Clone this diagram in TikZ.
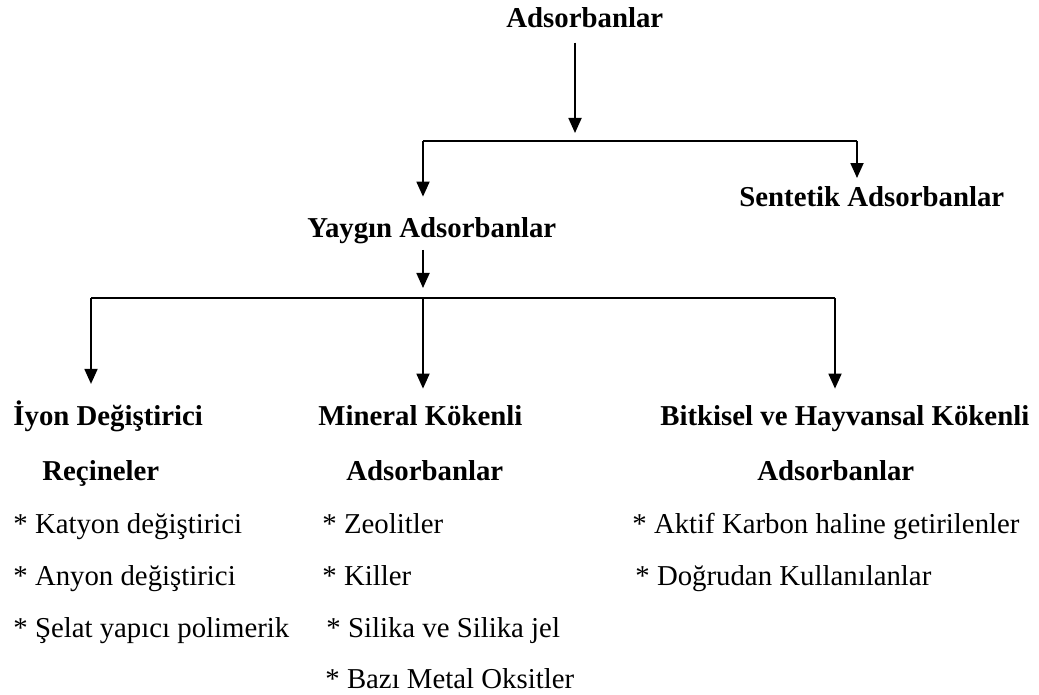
\documentclass[tikz,border=0pt]{standalone}
\usepackage{fontspec}
\setmainfont{Liberation Serif}
\usetikzlibrary{arrows.meta}

\begin{document}
\begin{tikzpicture}[x=0.5pt, y=-0.5pt,
    % text styles
    head/.style={inner sep=0pt, anchor=base west, font=\fontsize{14.4}{17}\selectfont\bfseries},
    item/.style={inner sep=0pt, anchor=base west, font=\fontsize{14.4}{17}\selectfont},
    % connector styles
    bar/.style={line width=1.1pt},
    arr/.style={line width=0.9pt, -{Triangle[width=6.5pt,length=7.5pt]}}
]
\useasboundingbox (0,0) rectangle (1039,695);

% Top levels
\node[head] (root) at (506,28) {Adsorbanlar};
\node[head] (common) at (307,238) {Yaygın Adsorbanlar};
\node[head] (synth) at (739,207) {Sentetik Adsorbanlar};

% Define the junctions of the bars
\coordinate (top) at (575,141);
\coordinate (topL) at (423,141);
\coordinate (topR) at (857,141);
\coordinate (mid) at (423,298);
\coordinate (midL) at (91,298);
\coordinate (midR) at (835,298);

% Ion exchange resins
\node[head] (ion) at (13,425) {İyon Değiştirici};
\node[head] (ionb) at (42,480) {Reçineler};
\node[item] (ion1) at (13,533) {* Katyon değiştirici};
\node[item] (ion2) at (13,585) {* Anyon değiştirici};
\node[item] (ion3) at (13,637) {* Şelat yapıcı polimerik};

% Mineral adsorbents
\node[head] (min) at (318,425) {Mineral Kökenli};
\node[head] (minb) at (346,480) {Adsorbanlar};
\node[item] (min1) at (322,533) {* Zeolitler};
\node[item] (min2) at (322,585) {* Killer};
\node[item] (min3) at (326,637) {* Silika ve Silika jel};
\node[item] (min4) at (325,688) {* Bazı Metal Oksitler};

% Plant and animal origin
\node[head] (bio) at (660,425) {Bitkisel ve Hayvansal Kökenli};
\node[head] (biob) at (757,480) {Adsorbanlar};
\node[item] (bio1) at (632,533) {* Aktif Karbon haline getirilenler};
\node[item] (bio2) at (635,585) {* Doğrudan Kullanılanlar};

% First split
\draw[arr, shorten <=7pt, shorten >=4pt] (root.south -| top) -- (top);
\draw[bar] (topL) -- (topR);
\draw[arr, shorten >=10.5pt] (topL) -- (common.north -| topL);
\draw[arr, shorten >=4.3pt] (topR) -- (synth.north -| topR);

% Second split
\draw[arr, shorten <=2.5pt, shorten >=5pt] (common.south -| mid) -- (mid);
\draw[bar] (midL) -- (midR);
\draw[arr, shorten >=8pt] (midL) -- (ion.north -| midL);
\draw[arr, shorten >=8pt] (mid) -- (min.north -| mid);
\draw[arr, shorten >=8pt] (midR) -- (bio.north -| midR);

\end{tikzpicture}
\end{document}
